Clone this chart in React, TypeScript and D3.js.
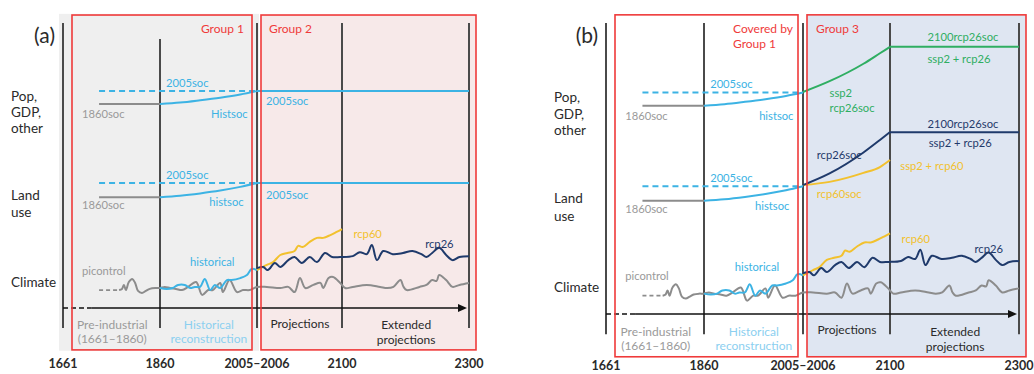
import React from 'react';
import * as d3 from 'd3';

// ---------- data ----------
const YEAR_BREAKS = [1661, 1860, 2005, 2100, 2300];
const TICK_LABELS = ['1661', '1860', '2005–2006', '2100', '2300'];
const ROW_POP = ['Pop,', 'GDP,', 'other'];
const ROW_LAND = ['Land', 'use'];
const ROW_CLIMATE = ['Climate'];

const POP_1860SOC = 71.6;
const POP_2005SOC = 76.1;
const LAND_1860SOC = 38.9;
const LAND_2005SOC = 43.9;
const PICONTROL_BASE = 6.3;
const POP_2100RCP26SOC = 91.8;
const LAND_2100RCP26SOC = 62.5;

type P = [number, number];

const popHistsoc: P[] = [[1860, 71.6], [1890, 72.1], [1920, 72.9], [1950, 73.8], [1980, 74.9], [2005, 76.1]];
const landHistsoc: P[] = [[1860, 38.9], [1890, 39.4], [1920, 40.2], [1950, 41.2], [1980, 42.5], [2005, 43.9]];
const popSsp2Rcp26soc: P[] = [[2005, 76.3], [2034, 80.0], [2071, 86.0], [2089, 89.6], [2100, 91.8]];
const landRcp26soc: P[] = [[2005, 44.3], [2034, 48.3], [2071, 55.5], [2089, 59.8], [2100, 62.5]];
const landRcp60soc: P[] = [[2005, 44.3], [2034, 45.4], [2071, 48.5], [2089, 50.5], [2100, 52.9]];

const picontrol: P[] = [
  [1776, 6.3], [1782, 6.7], [1786, 8.1], [1790, 6.3], [1796, 9.1], [1803, 10.2], [1809, 8.8], [1815, 6.0],
  [1823, 5.3], [1831, 6.0], [1839, 6.7], [1850, 7.0], [1860, 7.0], [1867, 7.4], [1875, 7.0], [1884, 6.7],
  [1893, 6.3], [1902, 7.4], [1914, 9.1], [1923, 4.6], [1932, 6.3], [1939, 6.3], [1950, 8.8], [1954, 5.6],
  [1964, 9.8], [1975, 5.6], [1984, 6.3], [1994, 6.3], [2005, 7.4], [2016, 7.4], [2031, 7.0], [2040, 7.4],
  [2047, 5.6], [2053, 10.5], [2059, 7.0], [2068, 8.1], [2076, 8.8], [2079, 7.0], [2085, 10.5], [2090, 10.9],
  [2098, 8.8], [2105, 7.0], [2117, 7.4], [2139, 8.1], [2160, 7.4], [2171, 7.0], [2181, 7.4], [2192, 9.8],
  [2197, 7.4], [2202, 6.3], [2222, 7.4], [2233, 8.1], [2242, 9.8], [2249, 9.5], [2253, 11.6], [2264, 9.8],
  [2274, 7.4], [2285, 8.1], [2300, 8.8],
];
const historical: P[] = [
  [1860, 7.0], [1870, 6.7], [1879, 7.0], [1887, 8.1], [1897, 8.1], [1905, 7.0], [1912, 7.4], [1920, 7.4],
  [1927, 10.2], [1935, 6.3], [1942, 8.1], [1950, 7.0], [1960, 9.8], [1967, 9.8], [1980, 10.5], [1990, 11.6],
  [1997, 13.7], [2005, 13.3],
];
const rcp60: P[] = [
  [2005, 13.3], [2016, 15.1], [2023, 16.1], [2031, 18.6], [2039, 19.3], [2047, 20.0], [2051, 21.8], [2056, 21.4],
  [2064, 23.2], [2072, 24.6], [2079, 24.6], [2087, 25.6], [2094, 26.7], [2100, 27.7],
];
const rcp26: P[] = [
  [2005, 14.0], [2012, 14.4], [2017, 13.3], [2025, 15.8], [2031, 14.4], [2040, 16.8], [2047, 17.9], [2055, 15.8],
  [2064, 17.9], [2072, 16.1], [2081, 19.3], [2089, 17.9], [2098, 17.9], [2117, 18.2], [2128, 19.6], [2139, 18.9],
  [2147, 22.1], [2155, 16.8], [2165, 20.0], [2180, 18.9], [2196, 19.3], [2211, 20.0], [2225, 18.9], [2233, 17.9],
  [2242, 19.3], [2253, 21.1], [2264, 18.6], [2274, 16.8], [2285, 17.9], [2300, 18.2],
];

// ---------- styles ----------
const FONT = "Lato, 'Open Sans', sans-serif";
const C_BLUE = '#3cb3e4';
const C_LBLUE = '#8ccff0';
const C_GRAY = '#8c8c8c';
const C_GRAYTXT = '#9a9a9a';
const C_NAVY = '#1f3a6b';
const C_YELLOW = '#f2c12e';
const C_GREEN = '#2fae62';
const C_RED = '#ef3a3a';
const C_VLINE = '#4a4a4a';
const C_TXT = '#2a2a2a';

type Cfg = { id: 'a' | 'b'; xRange: number[]; yRange: number[]; tickV: number };
const PANELS: Cfg[] = [
  { id: 'a', xRange: [63, 160, 257, 342, 469], yRange: [308, 23], tickV: -19.6 },
  { id: 'b', xRange: [606, 704, 803, 890, 1019], yRange: [314, 23], tickV: -17.9 },
];

function Panel({ cfg }: { cfg: Cfg }) {
  const x = d3.scaleLinear().domain(YEAR_BREAKS).range(cfg.xRange);
  const y = d3.scaleLinear().domain([0, 100]).range(cfg.yRange);
  const smooth = d3.line<P>().x(d => x(d[0])).y(d => y(d[1])).curve(d3.curveMonotoneX);
  const wiggle = d3.line<P>().x(d => x(d[0])).y(d => y(d[1])).curve(d3.curveCatmullRom.alpha(0.5));
  const straight = d3.line<P>().x(d => x(d[0])).y(d => y(d[1]));
  const isA = cfg.id === 'a';

  const x1661 = x(1661), x2005 = x(2005), x2300 = x(2300);
  const boxTop = y(102.8), boxBot = y(-14.7);
  const leftBox = { x0: x1661 + 9, x1: x2005 - 5 };
  const rightBox = { x0: x2005 + 4, x1: x2300 + 7 };

  const lbl = (t: string, yr: number, v: number, color: string, anchor = 'start', size = 11.2, weight = 400) => (
    <text key={t + yr + v} x={x(yr)} y={y(v)} dy="0.35em" fill={color} fontSize={size} fontWeight={weight}
      textAnchor={anchor as any} fontFamily={FONT}>{t}</text>
  );

  const rowLabel = (lines: string[], centers: number[]) =>
    lines.map((t, i) => (
      <text key={t} x={x1661 - 52} y={y(centers[i])} dy="0.35em" fill={C_TXT} fontSize={13.5} fontFamily={FONT}>{t}</text>
    ));

  const axisY = y(0);
  const vTop = (yr: number) => (isA && yr === 1860 ? y(94.4) : y(100));

  return (
    <g>
      {/* backgrounds */}
      {isA && <rect x={x1661 - 4} y={y(103.2)} width={x2005 + 2 - (x1661 - 4)} height={y(-15) - y(103.2)} fill="#efefef" />}
      <rect x={rightBox.x0} y={boxTop} width={rightBox.x1 - rightBox.x0} height={boxBot - boxTop}
        fill={isA ? '#f7e9e9' : '#dfe6f2'} />

      {/* vertical period lines */}
      {YEAR_BREAKS.map(yr => (
        <line key={yr} x1={x(yr)} x2={x(yr)} y1={vTop(yr)} y2={y(-7)} stroke={C_VLINE} strokeWidth={2} />
      ))}

      {/* time axis */}
      <line x1={x1661} x2={x(1720)} y1={axisY} y2={axisY} stroke="#111" strokeWidth={1.6} strokeDasharray="5,3" />
      <line x1={x(1720)} x2={x2300 - 6} y1={axisY} y2={axisY} stroke="#111" strokeWidth={1.6} />
      <path d={`M${x2300 - 2},${axisY} l-9,-4 l0,8 z`} fill="#111" />

      {/* socio-economic rows */}
      {[[POP_1860SOC, POP_2005SOC, popHistsoc], [LAND_1860SOC, LAND_2005SOC, landHistsoc]].map(([s1860, s2005, hist], i) => (
        <g key={'row' + i}>
          <path d={straight([[1735, s1860 as number], [1860, s1860 as number]])!} stroke={C_GRAY} strokeWidth={2} fill="none" />
          <path d={straight([[1735, s2005 as number], [2005, s2005 as number]])!} stroke={C_BLUE} strokeWidth={2} strokeDasharray="6,4" fill="none" />
          <path d={smooth(hist as P[])!} stroke={C_BLUE} strokeWidth={2} fill="none" />
          {isA && <path d={straight([[2005, s2005 as number], [2300, s2005 as number]])!} stroke={C_BLUE} strokeWidth={2} fill="none" />}
        </g>
      ))}
      {!isA && (
        <g>
          <path d={smooth(popSsp2Rcp26soc)!} stroke={C_GREEN} strokeWidth={2} fill="none" />
          <path d={straight([[2100, POP_2100RCP26SOC], [2300, POP_2100RCP26SOC]])!} stroke={C_GREEN} strokeWidth={2} fill="none" />
          <path d={smooth(landRcp60soc)!} stroke={C_YELLOW} strokeWidth={2} fill="none" />
          <path d={smooth(landRcp26soc)!} stroke={C_NAVY} strokeWidth={2} fill="none" />
          <path d={straight([[2100, LAND_2100RCP26SOC], [2300, LAND_2100RCP26SOC]])!} stroke={C_NAVY} strokeWidth={2} fill="none" />
        </g>
      )}

      {/* climate */}
      <path d={straight([[1735, PICONTROL_BASE], [1776, PICONTROL_BASE]])!} stroke={C_GRAY} strokeWidth={1.8} strokeDasharray="4,3" fill="none" />
      <path d={wiggle(picontrol)!} stroke={C_GRAY} strokeWidth={2} fill="none" />
      <path d={wiggle(historical)!} stroke={C_BLUE} strokeWidth={2} fill="none" />
      <path d={wiggle(rcp60)!} stroke={C_YELLOW} strokeWidth={2} fill="none" />
      <path d={wiggle(rcp26)!} stroke={C_NAVY} strokeWidth={2} fill="none" />

      {/* red group boxes */}
      <rect x={leftBox.x0} y={boxTop} width={leftBox.x1 - leftBox.x0} height={boxBot - boxTop} fill="none" stroke={C_RED} strokeWidth={1.6} />
      <rect x={rightBox.x0} y={boxTop} width={rightBox.x1 - rightBox.x0} height={boxBot - boxTop} fill="none" stroke={C_RED} strokeWidth={1.6} />
      {isA ? (
        <g fontFamily={FONT} fontSize={12} fill={C_RED}>
          <text x={leftBox.x1 - 8} y={y(97.9)} dy="0.35em" textAnchor="end">Group 1</text>
          <text x={rightBox.x0 + 8} y={y(97.9)} dy="0.35em">Group 2</text>
        </g>
      ) : (
        <g fontFamily={FONT} fontSize={12} fill={C_RED}>
          <text x={leftBox.x1 - 65} y={y(97.9)} dy="0.35em">Covered by</text>
          <text x={leftBox.x1 - 65} y={y(92.8)} dy="0.35em">Group 1</text>
          <text x={rightBox.x0 + 9} y={y(97.9)} dy="0.35em">Group 3</text>
        </g>
      )}

      {/* panel letter + row labels */}
      <text x={x1661 - 8} y={y(95.5)} dy="0.35em" textAnchor="end" fontSize={21} fill={C_TXT} fontFamily={FONT}>{isA ? '(a)' : '(b)'}</text>
      {rowLabel(ROW_POP, [74.4, 68.6, 63.0])}
      {rowLabel(ROW_LAND, [39.6, 33.7])}
      {rowLabel(ROW_CLIMATE, [9.1])}

      {/* series labels */}
      {lbl('2005soc', 1869, 78.9, C_BLUE)}
      {lbl('1860soc', 1700, 68.1, C_GRAYTXT)}
      {lbl(isA ? 'Histsoc' : 'histsoc', 1991, 67.9, C_BLUE, 'end')}
      {lbl('2005soc', 1869, 46.7, C_BLUE)}
      {lbl('1860soc', 1700, 36.1, C_GRAYTXT)}
      {lbl('histsoc', 1985, 37.0, C_BLUE, 'end')}
      {isA && lbl('2005soc', 2015, 72.6, C_BLUE)}
      {isA && lbl('2005soc', 2015, 39.6, C_BLUE)}
      {lbl('picontrol', 1700, 13.1, C_GRAYTXT)}
      {lbl('historical', 1905, 16.0, C_BLUE)}
      {lbl('rcp60', 2118, 25.8, C_YELLOW)}
      {lbl('rcp26', 2231, 22.3, C_NAVY)}
      {!isA && (
        <g>
          {lbl('ssp2', 2034, 75.9, C_GREEN)}
          {lbl('rcp26soc', 2034, 70.8, C_GREEN)}
          {lbl('2100rcp26soc', 2213, 95.2, C_GREEN, 'middle')}
          {lbl('ssp2 + rcp26', 2207, 87.6, C_GREEN, 'middle')}
          {lbl('2100rcp26soc', 2213, 65.3, C_NAVY, 'middle')}
          {lbl('ssp2 + rcp26', 2209, 58.8, C_NAVY, 'middle')}
          {lbl('ssp2 + rcp60', 2116, 50.9, C_YELLOW)}
          {lbl('rcp26soc', 2020, 54.6, C_NAVY)}
          {lbl('rcp60soc', 2020, 41.2, C_YELLOW)}
        </g>
      )}

      {/* period labels */}
      {lbl('Pre-industrial', 1762, -6.0, C_GRAYTXT, 'middle', 12)}
      {lbl('(1661–1860)', 1762, -10.9, C_GRAYTXT, 'middle', 12)}
      {lbl('Historical', 1933, -6.0, C_LBLUE, 'middle', 12)}
      {lbl('reconstruction', 1933, -10.9, C_LBLUE, 'middle', 12)}
      {lbl('Projections', 2053, -5.6, C_TXT, 'middle', 12)}
      {lbl('Extended', 2201, -6.0, C_TXT, 'middle', 12)}
      {lbl('projections', 2201, -11.2, C_TXT, 'middle', 12)}

      {/* tick labels */}
      {YEAR_BREAKS.map((yr, i) => (
        <text key={'t' + yr} x={x(yr)} y={y(cfg.tickV)} dy="0.35em" textAnchor="middle" fontSize={12.5}
          fontWeight={700} fill={C_TXT} fontFamily={FONT}>{TICK_LABELS[i]}</text>
      ))}
    </g>
  );
}

export default function App() {
  return (
    <svg width={1034} height={374} style={{ position: 'absolute', left: 0, top: 0, background: '#fff' }}>
      <rect width={1034} height={374} fill="#fff" />
      {PANELS.map(cfg => <Panel key={cfg.id} cfg={cfg} />)}
    </svg>
  );
}
